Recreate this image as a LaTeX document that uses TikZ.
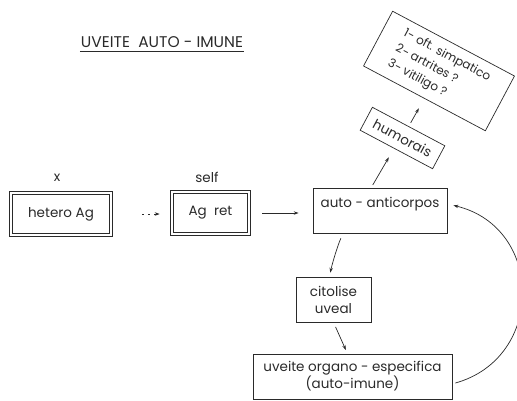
\documentclass[tikz,border=0pt]{standalone}
\usepackage{fontspec}
\setmainfont{Poppins}
\usetikzlibrary{arrows.meta,calc}
\definecolor{ink}{HTML}{2A2A2A}
\tikzset{
  box/.style={draw=ink, line width=0.7pt, inner sep=3pt, text=ink, align=center},
  dbox/.style={box, double=white, double distance=2.4pt, line width=0.6pt},
  tag/.style={text=ink, inner sep=1pt},
  arr/.style={draw=ink, line width=0.7pt, -{Stealth[length=5pt,width=3.4pt]}},
  txt/.style={font=\fontsize{13.5}{17}\selectfont}
}
\begin{document}
\begin{tikzpicture}[x=1pt,y=-1pt]
\useasboundingbox (0,0) rectangle (517,400);

% heading
\node[tag, font=\fontsize{15.5}{18}\selectfont] (title) at (162,42) {UVEITE\ \ AUTO - IMUNE};
\draw[ink, line width=0.7pt] ([yshift=-3pt]title.south west) -- ([yshift=-3pt]title.south east);

% antigen chain
\node[tag, txt] (xlab) at (57,178) {x};
\node[tag, txt] (selflab) at (207,177) {self};
\node[dbox, txt, minimum width=100, minimum height=42] (het) at (61,214) {hetero Ag};
\node[dbox, txt, minimum width=77, minimum height=42] (agr) at (210.5,213) {Ag\ \ ret};
\node[box, txt, minimum width=134, anchor=north, text height=15pt, text depth=22pt, inner ysep=4pt] (auto) at (380,188) {auto - anticorpos};

% humoral branch
\node[box, txt, rotate=-28, minimum width=82, minimum height=26] (hum) at (402.5,138) {humorais};
\node[box, rotate=-28, minimum width=138, minimum height=62, inner sep=2pt, align=left, font=\fontsize{12}{17}\selectfont] (big) at (439,71)
  {1- oft. simpatico\\2- artrites ?\\3- vitiligo ?};

% cellular branch
\node[box, txt, minimum width=75, minimum height=45] (cit) at (333.5,299.5) {citolise\\uveal};
\node[box, txt, minimum width=199, minimum height=45] (uv) at (352.5,376.5) {uveite organo - especifica\\(auto-imune)};

% connectors
\draw[arr, dash pattern=on 2pt off 4pt, shorten <=31pt, shorten >=12pt] (het.east) -- (het.east -| agr.west);
\draw[arr, shorten <=13pt, shorten >=14pt] (agr.east) -- (agr.east -| auto.west);
\draw[arr, shorten <=3.5pt, shorten >=8.7pt] ([xshift=-9pt]auto.north) -- ([xshift=-3pt]hum.south);
\draw[arr, shorten <=3.9pt, shorten >=11pt] (hum.north) -- (big.south);
\draw[arr, shorten <=5pt, shorten >=4pt] ([xshift=-37pt]auto.south) .. controls +(-6,13) and +(2,-10) .. ([xshift=-4pt]cit.north);
\draw[arr, shorten <=5pt, shorten >=4pt] (cit.south) -- ([xshift=-5pt]uv.north);
\draw[arr] ([shift={(3,6.5)}]uv.east) .. controls +(90,-25) and +(91,22) .. ([shift={(6,-5.5)}]auto.east);
\end{tikzpicture}
\end{document}
